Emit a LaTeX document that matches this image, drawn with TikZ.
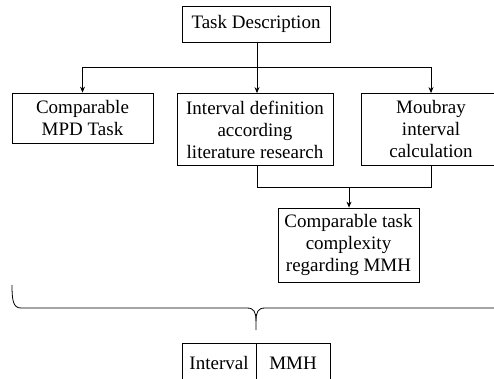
\documentclass[tikz,border=0pt]{standalone}
\usepackage{fontspec}
\setmainfont{Liberation Serif}
\usetikzlibrary{arrows.meta}
\begin{document}
\begin{tikzpicture}[x=1pt,y=-1pt,
  box/.style={draw, line width=0.8pt, align=center, inner sep=0pt,
    font=\fontsize{19}{22}\selectfont},
  lbl/.style={inner sep=0pt, font=\fontsize{19}{22}\selectfont},
  conn/.style={line width=0.8pt},
  arr/.style={line width=0.8pt, -{Stealth[length=6pt,width=5pt]}}]
\useasboundingbox (0,0) rectangle (494,379);
\clip (0,0) rectangle (494,379);
\node[box, minimum width=148pt, minimum height=36pt] (task) at (256,24) {Task Description};
\node[box, minimum width=141pt, minimum height=50pt] (mpd) at (82.5,118) {Comparable\\MPD Task};
\node[box, minimum width=156pt, minimum height=72pt] (lit) at (255,129.5) {Interval definition\\according\\literature research};
\node[box, minimum width=140pt, minimum height=72pt] (mou) at (431,129.5) {Moubray\\interval\\calculation};
\node[box, minimum width=141pt, minimum height=74pt] (cmp) at (348.5,245) {Comparable task\\complexity\\regarding MMH};
\coordinate (split) at (257,67);
\coordinate (join) at (349,187);
\draw[conn] (task.south -| split) -- (split);
\draw[arr] (split) -| (mpd.north);
\draw[arr] (split) -- (split |- lit.north);
\draw[arr] (split) -| (mou.north);
\draw[conn] (lit.south -| split) |- (join);
\draw[conn] (mou.south) |- (join);
\draw[arr] (join) -- (cmp.north -| join);
% brace
\draw[line width=0.8pt] (12,285) .. controls (12,300) and (13,308) .. (21,308) -- (247,308)
  .. controls (254,308) and (256,312) .. (256,321) -- (256,330);
\draw[line width=0.8pt] (256,321) .. controls (256,312) and (258,308) .. (265,308) -- (494,308);
% bottom table
\draw[line width=0.8pt] (182,390) -- (182,343) -- (330,343) -- (330,390);
\draw[line width=0.8pt] (256,343) -- (256,390);
\node[lbl] (iv) at (219,363) {Interval};
\node[lbl] (mmh) at (293,363) {MMH};
\end{tikzpicture}
\end{document}
